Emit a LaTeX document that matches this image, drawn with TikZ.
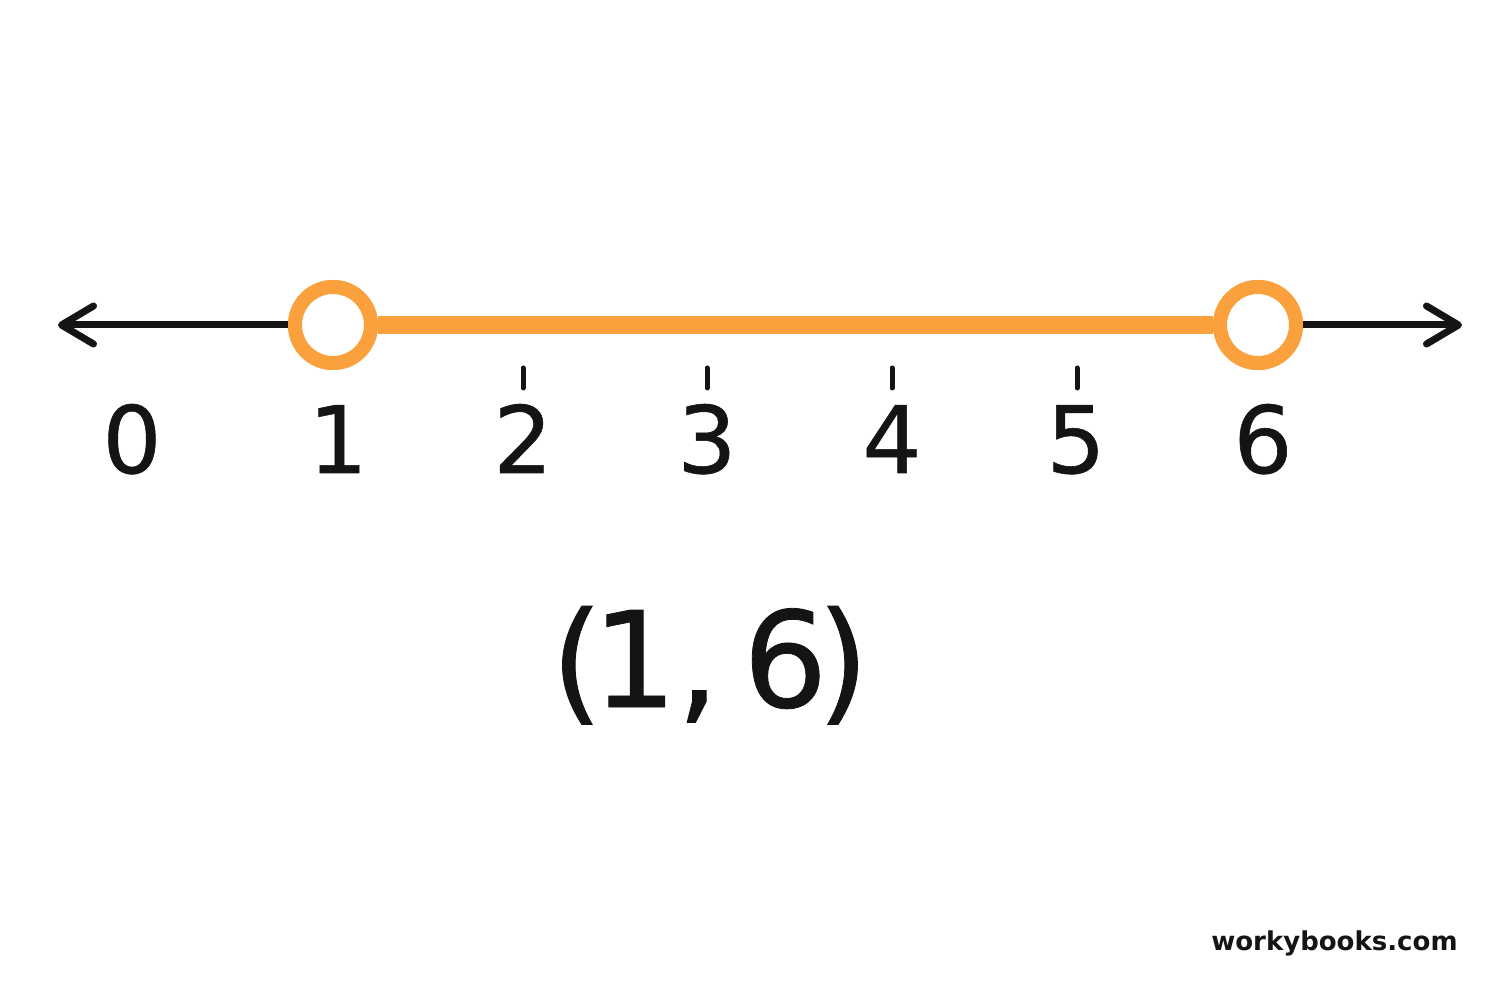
\documentclass[tikz,border=0pt]{standalone}
\usepackage{fontspec}
\usetikzlibrary{arrows.meta}
\newfontfamily\digfont{DejaVu Sans}[FakeBold=0.6]
\newfontfamily\logofont{DejaVu Sans Bold}
\definecolor{orng}{RGB}{250,160,60}
\definecolor{ink}{RGB}{20,20,20}
\tikzset{
  axisline/.style={draw=ink, line width=3.5pt, line cap=round},
  barb/.tip={Straight Barb[length=16pt, width=19pt, line cap=round, line join=round]},
  seg/.style={draw=orng, line width=9pt},
  opendot/.style={circle, draw=orng, fill=white, line width=7pt, minimum size=38pt, inner sep=0pt},
  tickmark/.style={draw=ink, line width=2.5pt, line cap=round},
  numlabel/.style={anchor=base, inner sep=0pt, font=\digfont\fontsize{46.5pt}{50pt}\selectfont, text=ink},
  biglabel/.style={anchor=base, inner sep=0pt, font=\digfont\fontsize{66.5pt}{70pt}\selectfont, text=ink},
  logo/.style={anchor=base east, inner sep=0pt, font=\logofont\fontsize{13pt}{15pt}\selectfont, text=ink}
}
\begin{document}
\begin{tikzpicture}[x=0.5pt, y=-0.5pt]
\useasboundingbox (0,0) rectangle (1500,1000);
\fill[white] (0,0) rectangle (1500,1000);
\coordinate (lend) at (58,325);
\coordinate (rend) at (1462,325);
\node[opendot] (c1) at (333,325) {};
\node[opendot] (c6) at (1258,325) {};
\draw[axisline, {barb}-] (lend) -- (c1.west);
\draw[axisline, -{barb}] (c6.east) -- (rend);
\draw[seg] (c1.east) -- (c6.west);
\node[opendot] at (c1) {};
\node[opendot] at (c6) {};
\foreach \x/\n in {523/t2, 707/t3, 892/t4, 1077/t5} {
  \coordinate (\n a) at (\x,368);
  \coordinate (\n b) at (\x,388);
  \draw[tickmark] (\n a) -- (\n b);
}
\node[numlabel] (l0) at (132,473) {0};
\node[numlabel] (l1) at (338,473) {1};
\node[numlabel] (l2) at (523,473) {2};
\node[numlabel] (l3) at (707,473) {3};
\node[numlabel] (l4) at (892,473) {4};
\node[numlabel] (l5) at (1076,473) {5};
\node[numlabel] (l6) at (1263,473) {6};
\node[biglabel] (interval) at (710,707) {(\kern-0.08em1,\kern0.18em6\kern-0.08em)};
\node[logo] (site) at (1458,950) {workybooks.com};
\end{tikzpicture}
\end{document}
